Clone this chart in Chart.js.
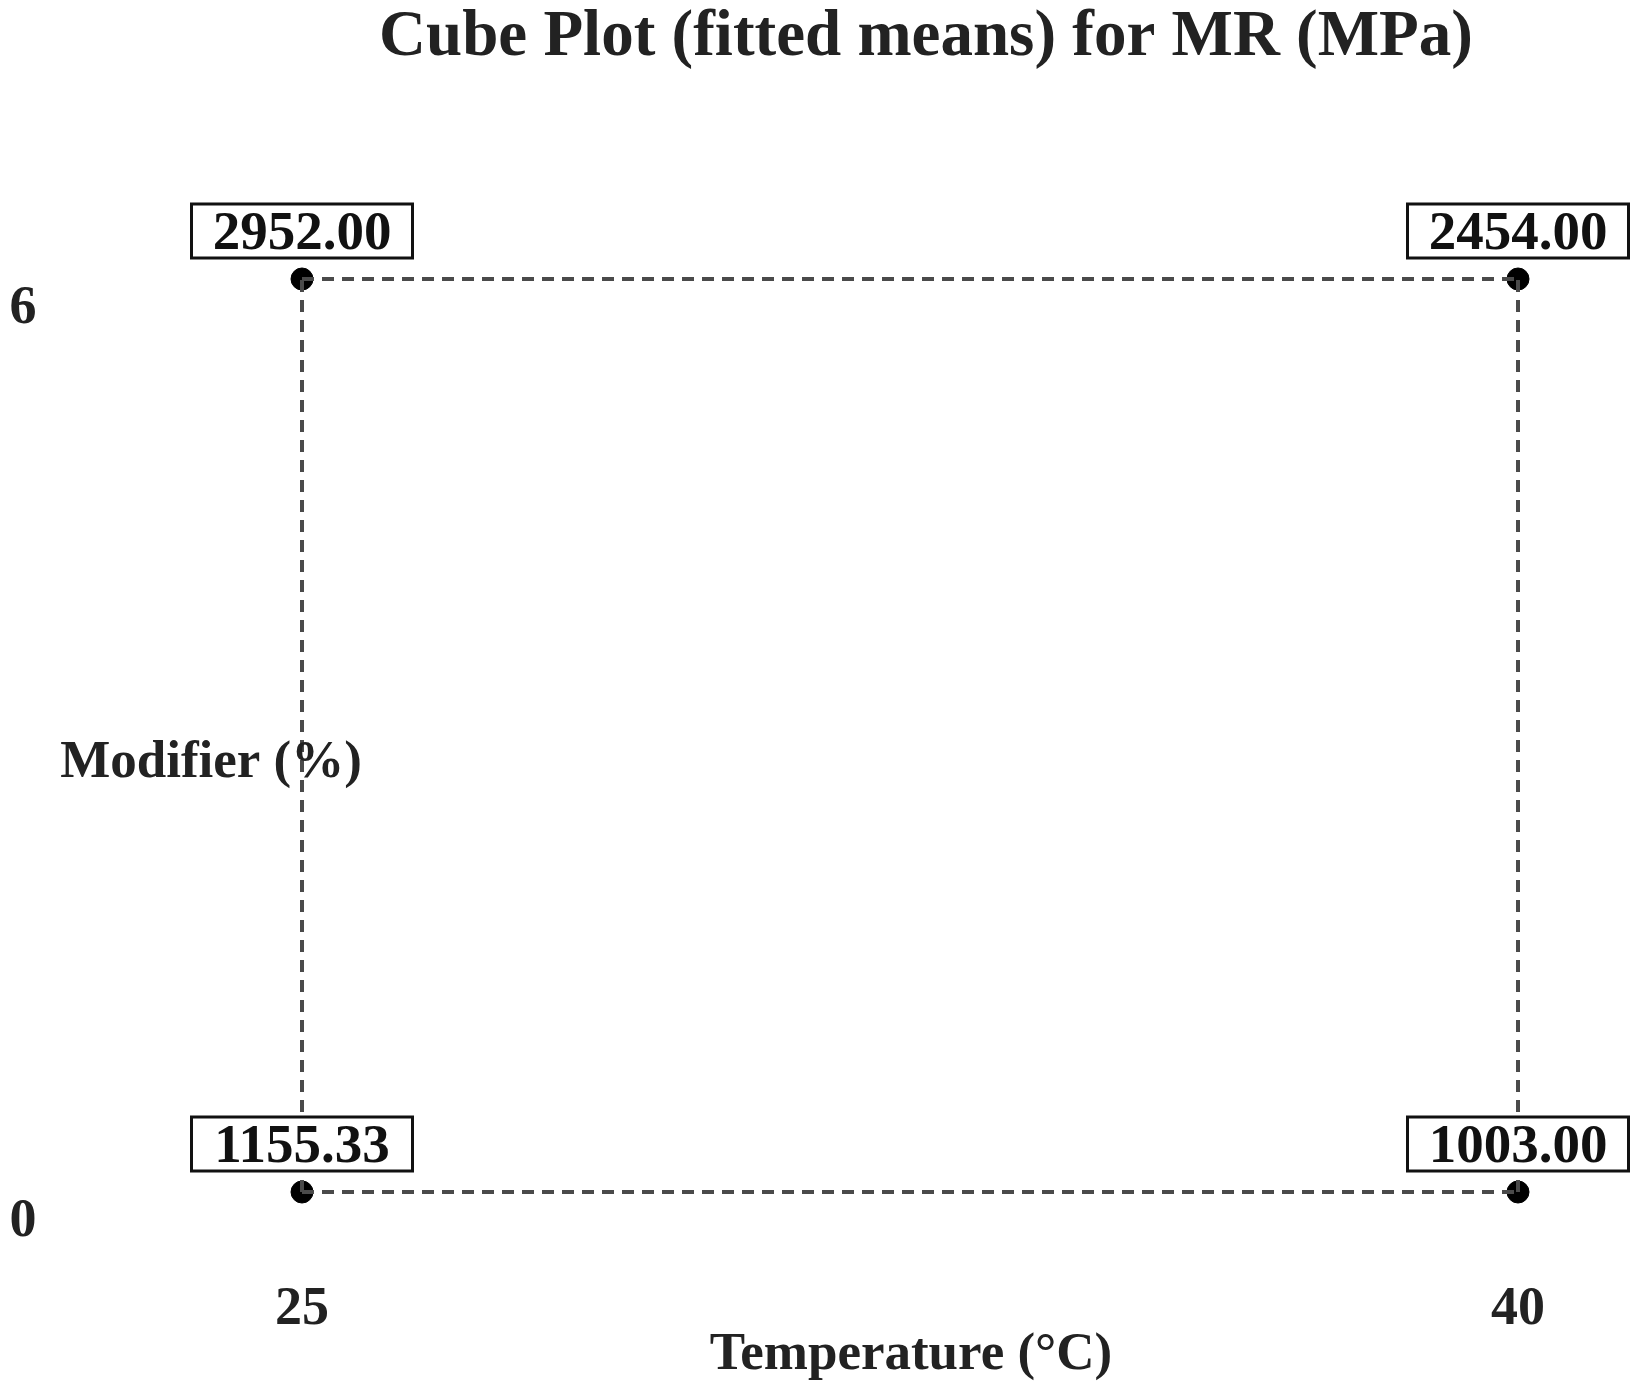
<!DOCTYPE html>
<html>
<head>
<meta charset="utf-8">
<script src="https://cdn.jsdelivr.net/npm/chart.js@4"></script>
<style>
  html, body { margin: 0; padding: 0; background: #fff; }
  #wrap { width: 1642px; height: 1386px; }
</style>
</head>
<body>
<div id="wrap"><canvas id="cube"></canvas></div>
<script>
const temperatures = [25, 40];
const modifiers = [0, 6];
// fitted means at (temperature, modifier)
const corners = [
  { x: 25, y: 6, label: '2952.00' },
  { x: 40, y: 6, label: '2454.00' },
  { x: 25, y: 0, label: '1155.33' },
  { x: 40, y: 0, label: '1003.00' }
];
const xTickLabels = ['25', '40'];
const yTickLabels = ['0', '6'];

const serif = '"Liberation Serif", "Times New Roman", serif';
const edge = (a, b) => ({
  type: 'line',
  data: [a, b],
  borderColor: '#4a4a4a',
  borderWidth: 4,
  borderDash: [12, 8],
  pointRadius: 0,
  fill: false,
  clip: false
});

// text, boxes, tick labels
const cubeText = {
  id: 'cubeText',
  afterDatasetsDraw(chart) {
    const { ctx, scales: { x, y } } = chart;
    ctx.save();
    ctx.fillStyle = '#222';
    ctx.textAlign = 'center';
    ctx.textBaseline = 'middle';
    ctx.font = 'bold 65px ' + serif;
    ctx.fillText('Cube Plot (fitted means) for MR (MPa)', 926, 38);

    ctx.font = 'bold 55px ' + serif;
    corners.forEach(c => {
      const px = x.getPixelForValue(c.x), py = y.getPixelForValue(c.y);
      const w = 221, h = 54, top = py - 21 - h;
      ctx.fillStyle = '#fff';
      ctx.fillRect(px - w / 2, top, w, h);
      ctx.strokeStyle = '#111';
      ctx.lineWidth = 3;
      ctx.strokeRect(px - w / 2, top, w, h);
      ctx.fillStyle = '#111';
      ctx.fillText(c.label, px, top + h / 2 + 4);
    });

    ctx.fillStyle = '#222';
    ctx.font = 'bold 54px ' + serif;
    temperatures.forEach((t, i) => {
      ctx.fillText(xTickLabels[i], x.getPixelForValue(t), y.getPixelForValue(0) + 118);
    });
    modifiers.forEach((m, i) => {
      ctx.fillText(yTickLabels[i], 23, y.getPixelForValue(m) + 30);
    });
    ctx.font = 'bold 53px ' + serif;
    ctx.fillText('Modifier (%)', 211, 763);
    ctx.fillText('Temperature (\u00B0C)', 911, 1355);
    ctx.restore();
  }
};

new Chart(document.getElementById('cube'), {
  type: 'scatter',
  data: {
    datasets: [
      edge({ x: 25, y: 6 }, { x: 40, y: 6 }),
      edge({ x: 25, y: 0 }, { x: 40, y: 0 }),
      edge({ x: 25, y: 0 }, { x: 25, y: 6 }),
      edge({ x: 40, y: 0 }, { x: 40, y: 6 }),
      {
        type: 'scatter',
        data: corners.map(c => ({ x: c.x, y: c.y })),
        pointRadius: 11,
        pointBackgroundColor: '#000',
        pointBorderColor: '#000',
        clip: false
      }
    ]
  },
  options: {
    responsive: true,
    maintainAspectRatio: false,
    animation: false,
    layout: { padding: { left: 302, right: 124, top: 279, bottom: 194 } },
    plugins: { legend: { display: false }, tooltip: { enabled: false } },
    scales: {
      x: { type: 'linear', min: 25, max: 40, display: false },
      y: { type: 'linear', min: 0, max: 6, display: false }
    }
  },
  plugins: [cubeText]
});
</script>
</body>
</html>
